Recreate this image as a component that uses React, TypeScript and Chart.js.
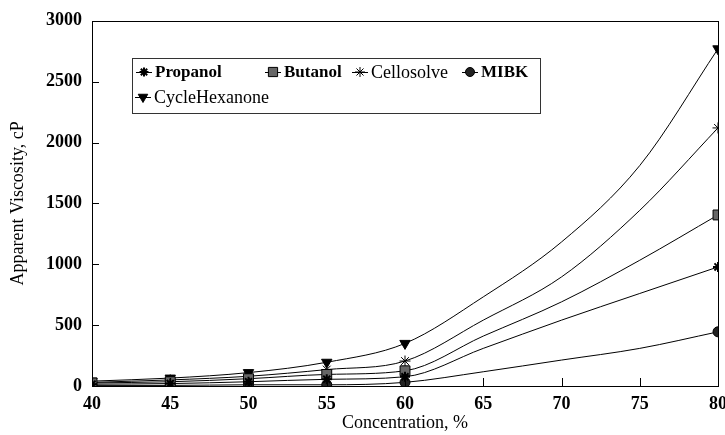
import { useEffect, useRef } from "react";
import { Chart, registerables } from "chart.js";
import { drawPoint, toFont } from "chart.js/helpers";

Chart.register(...registerables);

// ---- data ----
const concentration = [40, 45, 50, 55, 60, 65, 70, 75, 80];
const markedConcentrations = [40, 45, 50, 55, 60, 80];
const propanol = [15, 20, 35, 55, 76, 309, 541, 760, 978];
const butanol = [25, 35, 60, 95, 125, 410, 691, 1033, 1405];
const cellosolve = [30, 50, 80, 135, 205, 541, 896, 1443, 2120];
const mibk = [5, 5, 10, 10, 30, 117, 213, 309, 445];
const cycleHexanone = [40, 65, 110, 195, 350, 732, 1183, 1811, 2770];
const seriesNames = ["Propanol", "Butanol", "Cellosolve", "MIBK", "CycleHexanone"];
const xTitle = "Concentration, %";
const yTitle = "Apparent Viscosity, cP";

const SERIF = '"Liberation Serif", "Times New Roman", serif';

type Marker = { style: any; radius: number; width: number; fill: string; rotation: number };
const markers: Marker[] = [
  { style: "star", radius: 5, width: 2, fill: "#000", rotation: 0 },
  { style: "rect", radius: 7, width: 1, fill: "#666", rotation: 0 },
  { style: "star", radius: 5.5, width: 1, fill: "#000", rotation: 0 },
  { style: "circle", radius: 5, width: 1, fill: "#222", rotation: 0 },
  { style: "triangle", radius: 6, width: 1, fill: "#000", rotation: 180 },
];
const legendBold = [true, true, false, true, false];

const legendPlugin = {
  id: "boxLegend",
  afterDraw(chart: any) {
    const ctx = chart.ctx as CanvasRenderingContext2D;
    const box = { left: 132, top: 58, right: 540, bottom: 113 };
    const slots = [
      { x: 136, y: 72 },
      { x: 265, y: 72 },
      { x: 352, y: 72 },
      { x: 462, y: 72 },
      { x: 135, y: 97 },
    ];
    const boldFont = toFont({ family: SERIF, size: 17, weight: "bold" } as any).string;
    const normalFont = toFont({ family: SERIF, size: 18 } as any).string;
    ctx.save();
    ctx.strokeStyle = "#333";
    ctx.lineWidth = 1;
    ctx.strokeRect(box.left + 0.5, box.top + 0.5, box.right - box.left, box.bottom - box.top);
    chart.data.datasets.forEach((ds: any, i: number) => {
      const s = slots[i];
      const m = markers[i];
      ctx.strokeStyle = "#000";
      ctx.lineWidth = 1;
      ctx.beginPath();
      ctx.moveTo(s.x, s.y + 0.5);
      ctx.lineTo(s.x + 16, s.y + 0.5);
      ctx.stroke();
      ctx.fillStyle = m.fill;
      ctx.strokeStyle = "#000";
      ctx.lineWidth = m.width;
      drawPoint(ctx, { pointStyle: m.style, rotation: m.rotation, radius: m.radius - 0.5, borderWidth: m.width } as any, s.x + 8, s.y);
      ctx.fillStyle = "#000";
      ctx.textBaseline = "middle";
      ctx.textAlign = "left";
      ctx.font = legendBold[i] ? boldFont : normalFont;
      ctx.fillText(ds.label, s.x + 19, s.y + 1);
    });
    ctx.restore();
  },
};

const framePlugin = {
  id: "frameTicks",
  afterDraw(chart: any) {
    const ctx = chart.ctx as CanvasRenderingContext2D;
    const a = chart.chartArea;
    const xs = chart.scales.x;
    const ys = chart.scales.y;
    ctx.save();
    ctx.strokeStyle = "#000";
    ctx.lineWidth = 1;
    ctx.strokeRect(Math.round(a.left) + 0.5, Math.round(a.top) + 0.5, Math.round(a.right - a.left), Math.round(a.bottom - a.top));
    ctx.beginPath();
    ys.ticks.forEach((t: any) => {
      if (t.value <= ys.min || t.value >= ys.max) return;
      const y = Math.round(ys.getPixelForValue(t.value)) + 0.5;
      ctx.moveTo(a.left, y);
      ctx.lineTo(a.left + 7, y);
    });
    xs.ticks.forEach((t: any) => {
      if (t.value <= xs.min || t.value >= xs.max) return;
      const x = Math.round(xs.getPixelForValue(t.value)) + 0.5;
      ctx.moveTo(x, a.bottom);
      ctx.lineTo(x, a.bottom - 8);
    });
    ctx.stroke();
    ctx.restore();
  },
};

export default function App() {
  const ref = useRef<HTMLCanvasElement>(null);
  useEffect(() => {
    document.body.style.overflow = "hidden";
    const seriesValues = [propanol, butanol, cellosolve, mibk, cycleHexanone];
    const datasets = seriesValues.map((vals, i) => {
      const m = markers[i];
      return {
        label: seriesNames[i],
        data: concentration.map((c, j) => ({ x: c, y: vals[j] })),
        borderColor: "#000",
        borderWidth: 1,
        cubicInterpolationMode: "monotone" as const,
        fill: false,
        pointStyle: m.style,
        pointRotation: m.rotation,
        pointRadius: (c: any) => (markedConcentrations.includes(concentration[c.dataIndex]) ? m.radius : 0),
        pointHoverRadius: 0,
        pointBackgroundColor: m.fill,
        pointBorderColor: "#000",
        pointBorderWidth: m.width,
      };
    });
    const chart = new Chart(ref.current!, {
      type: "line",
      data: { datasets },
      options: {
        responsive: false,
        animation: false,
        events: [],
        layout: { padding: { top: 20, right: 16, left: 0, bottom: 0 } },
        plugins: { legend: { display: false }, tooltip: { enabled: false } },
        scales: {
          x: {
            type: "linear",
            min: 40,
            max: 80,
            ticks: {
              stepSize: 5,
              color: "#000",
              padding: 8,
              maxRotation: 0,
              callback: (v: any) => String(v),
              font: { family: SERIF, size: 18, weight: "bold" },
            },
            grid: { display: false, drawTicks: false },
            border: { display: false },
            title: {
              display: true,
              text: xTitle,
              color: "#000",
              font: { family: SERIF, size: 18 },
              padding: { top: 0, bottom: 1 },
            },
            afterFit: (s: any) => {
              s.height = 49;
            },
          },
          y: {
            min: 0,
            max: 3000,
            ticks: {
              stepSize: 500,
              color: "#000",
              padding: 10,
              callback: (v: any) => String(v),
              font: { family: SERIF, size: 18, weight: "bold" },
            },
            grid: { display: false, drawTicks: false },
            border: { display: false },
            title: {
              display: true,
              text: yTitle,
              color: "#000",
              font: { family: SERIF, size: 18 },
              padding: { top: 7, bottom: 0 },
            },
            afterFit: (s: any) => {
              s.width = 92;
            },
          },
        },
      },
      plugins: [framePlugin, legendPlugin],
    });
    return () => chart.destroy();
  }, []);
  return (
    <div style={{ position: "fixed", left: 0, top: 0, width: 735, height: 435, background: "#fff" }}>
      <canvas ref={ref} width={735} height={435} style={{ display: "block" }} />
    </div>
  );
}
